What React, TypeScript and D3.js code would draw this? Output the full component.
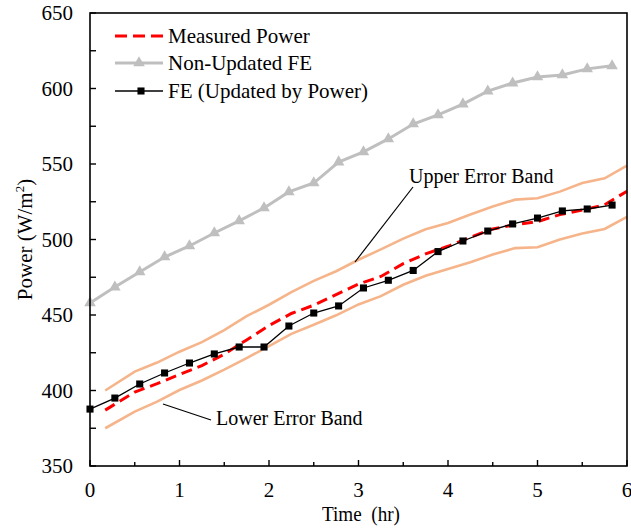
import React from "react";
import * as d3 from "d3";

// FE model outputs every 1000 s (hours)
const feTime = d3.range(22).map((i) => (i * 1000) / 3600);
const nonUpdatedFE = [
  458, 468.5, 478.5, 488.4, 495.7, 504.3, 512.3, 520.9, 531.5, 537.4, 551.3,
  558, 566.6, 576.5, 582.5, 589.7, 598.3, 603.6, 607.6, 609, 613, 615,
];
const updatedFE = [
  387.7, 395, 404.3, 411.6, 418.2, 424.2, 428.8, 428.8, 442.7, 451.3, 456,
  467.9, 473, 479.5, 492, 499, 505.6, 510.3, 514.2, 518.9, 520.2, 522.8,
];

// Measured power and its error band (hours)
const measTime = [
  0.17, 0.5, 0.75, 1.0, 1.25, 1.5, 1.75, 2.0, 2.25, 2.5, 2.75, 3.0, 3.25, 3.5,
  3.75, 4.0, 4.25, 4.5, 4.75, 5.0, 5.25, 5.5, 5.75, 6.0,
];
const measuredPower = [
  387, 399, 404.5, 410.6, 416.5, 424, 433.5, 443, 451, 456.5, 463.5, 470.5,
  475.5, 484, 490.5, 495.5, 501.5, 507, 509.8, 511.8, 516.5, 519.5, 523, 532,
];
const upperBand = [
  400, 412.5, 418.5, 425.7, 432, 440, 449.2, 456.8, 465.2, 472.6, 479, 486.6,
  493.5, 500.6, 506.8, 511, 516.5, 521.8, 526.4, 527.3, 531.7, 537.4, 540.5,
  549,
];
const lowerBand = [
  375, 386, 392.6, 400.3, 406.6, 413.8, 421.5, 429.4, 437.5, 443.5, 449.8, 457,
  462.5, 470, 476, 480.5, 485, 490, 494.3, 494.9, 500, 504, 507, 515,
];

const xTicks = [0, 1, 2, 3, 4, 5, 6];
const yTicks = [350, 400, 450, 500, 550, 600, 650];
const legendLabels = ["Measured Power", "Non-Updated FE", "FE (Updated by Power)"];

const W = 631;
const H = 529;
const L = 90;
const R = 627;
const T = 13;
const B = 466;
const FONT = "'Liberation Serif', 'Times New Roman', serif";

export default function App() {
  const x = d3.scaleLinear().domain([0, 6]).range([L, R]);
  const y = d3.scaleLinear().domain([350, 650]).range([B, T]);

  const lineXY = (ts: number[], vs: number[]) =>
    d3
      .line<number>()
      .x((_, i) => x(ts[i]))
      .y((v) => y(v))(vs) as string;

  const minorX = d3.range(0, 6.01, 0.5);
  const minorY = d3.range(350, 650.1, 25);

  const tri = d3.symbol().type(d3.symbolTriangle).size(58)() as string;
  const sq = d3.symbol().type(d3.symbolSquare).size(50)() as string;

  const orange = "#f6b48a";
  const gray = "#bfbfbf";

  const legY = [36, 63, 91];
  const legX0 = 115;
  const legX1 = 163;

  return (
    <svg
      width={W}
      height={H}
      style={{ position: "absolute", left: 0, top: 0, background: "#fff" }}
      fontFamily={FONT}
    >
      <rect x={0} y={0} width={W} height={H} fill="#fff" />

      {/* error bands */}
      <path d={lineXY(measTime, upperBand)} fill="none" stroke={orange} strokeWidth={2.6} />
      <path d={lineXY(measTime, lowerBand)} fill="none" stroke={orange} strokeWidth={2.6} />

      {/* non-updated FE */}
      <path d={lineXY(feTime, nonUpdatedFE)} fill="none" stroke={gray} strokeWidth={3} />
      {nonUpdatedFE.map((v, i) => (
        <path key={"g" + i} d={tri} transform={`translate(${x(feTime[i])},${y(v)})`} fill={gray} />
      ))}

      {/* measured */}
      <path
        d={lineXY(measTime, measuredPower)}
        fill="none"
        stroke="#ff0000"
        strokeWidth={3}
        strokeDasharray="11,6"
      />

      {/* updated FE */}
      <path d={lineXY(feTime, updatedFE)} fill="none" stroke="#000" strokeWidth={1.3} />
      {updatedFE.map((v, i) => (
        <path key={"b" + i} d={sq} transform={`translate(${x(feTime[i])},${y(v)})`} fill="#000" />
      ))}

      {/* frame */}
      <rect x={L} y={T} width={R - L} height={B - T} fill="none" stroke="#000" strokeWidth={1.6} />

      {/* ticks */}
      {minorX.map((t) => (
        <line
          key={"xt" + t}
          x1={x(t)}
          x2={x(t)}
          y1={B}
          y2={B - (Number.isInteger(t) ? 6 : 4)}
          stroke="#000"
          strokeWidth={1.4}
        />
      ))}
      {minorY.map((v) => (
        <line key={"yt" + v} x1={L} x2={L + 6} y1={y(v)} y2={y(v)} stroke="#000" strokeWidth={1.4} />
      ))}

      {/* tick labels */}
      {xTicks.map((t) => (
        <text key={"xl" + t} x={x(t)} y={497} textAnchor="middle" fontSize={21} fill="#000">
          {t}
        </text>
      ))}
      {yTicks.map((v) => (
        <text key={"yl" + v} x={73} y={y(v) + 7} textAnchor="end" fontSize={21} fill="#000">
          {v}
        </text>
      ))}

      {/* axis titles */}
      <text x={322} y={521} fontSize={21} fill="#000" textLength={78} lengthAdjust="spacingAndGlyphs">
        {"Time\u00A0 (hr)"}
      </text>
      <text
        transform={`translate(32,${(T + B) / 2}) rotate(-90)`}
        textAnchor="middle"
        fontSize={21}
        fill="#000"
      >
        Power (W/m<tspan fontSize={13} dy={-8}>2</tspan>
        <tspan dy={8}>)</tspan>
      </text>

      {/* legend */}
      <line
        x1={legX0}
        x2={legX1}
        y1={legY[0]}
        y2={legY[0]}
        stroke="#ff0000"
        strokeWidth={3}
        strokeDasharray="12,6"
      />
      <line x1={legX0} x2={legX1} y1={legY[1]} y2={legY[1]} stroke={gray} strokeWidth={3} />
      <path d={tri} transform={`translate(${(legX0 + legX1) / 2},${legY[1]})`} fill={gray} />
      <line x1={legX0} x2={legX1} y1={legY[2]} y2={legY[2]} stroke="#000" strokeWidth={1.3} />
      <path d={sq} transform={`translate(${(legX0 + legX1) / 2 + 2},${legY[2]})`} fill="#000" />
      {legendLabels.map((s, i) => (
        <text key={s} x={168} y={legY[i] + 7} fontSize={21} fill="#000">
          {s}
        </text>
      ))}

      {/* annotations */}
      <line x1={413} y1={187} x2={355} y2={262} stroke="#000" strokeWidth={1.2} />
      <text x={409} y={183} fontSize={20} fill="#000">
        Upper Error Band
      </text>
      <line x1={211} y1={420} x2={163} y2={404} stroke="#000" strokeWidth={1.2} />
      <text x={216} y={425} fontSize={20} fill="#000">
        Lower Error Band
      </text>
    </svg>
  );
}
